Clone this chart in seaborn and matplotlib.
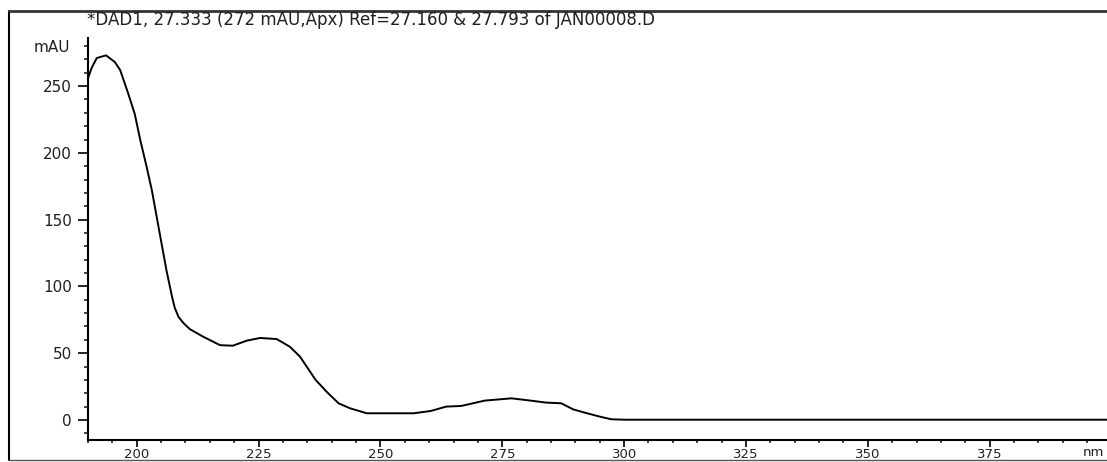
import matplotlib
matplotlib.use("Agg")
import matplotlib.pyplot as plt
from matplotlib.ticker import MultipleLocator
from matplotlib.lines import Line2D
import seaborn as sns
import pandas as pd

# ---- data ----
wavelength_nm = [190.0, 190.8, 191.8, 193.7, 195.5, 196.6, 198.2, 199.6, 200.7,
                 202.0, 203.1, 204.1, 205.1, 206.1, 207.2, 207.8, 208.6, 209.6,
                 210.9, 213.6, 217.1, 219.7, 222.6, 225.3, 228.7, 231.4, 233.5,
                 236.7, 239.0, 241.4, 243.8, 247.2, 256.8, 260.3, 263.5, 266.6,
                 271.4, 276.9, 280.8, 284.0, 287.1, 289.5, 291.9, 295.0, 297.4,
                 300.0, 325.0, 350.0, 375.0, 400.0]
absorbance_mau = [256, 264, 271, 273, 268, 262, 245, 229, 210,
                  190, 172, 152, 132, 112, 93, 84, 77, 72.5,
                  68, 62.4, 56, 55.6, 59.4, 61.4, 60.6, 54.9, 47.4,
                  30, 21, 12.5, 8.7, 5, 5, 6.7, 10, 10.5,
                  14.5, 16.2, 14.5, 13, 12.5, 8, 5.5, 2.5, 0.5,
                  0.2, 0.2, 0.2, 0.2, 0.2]
title_text = "*DAD1, 27.333 (272 mAU,Apx) Ref=27.160 & 27.793 of JAN00008.D"
y_unit = "mAU"
x_unit = "nm"

df = pd.DataFrame({"nm": wavelength_nm, "mAU": absorbance_mau})

sns.set_style("ticks")
plt.rcParams["font.family"] = ["DejaVu Sans"]
txt_color = "#202020"

W, H = 1107, 462
fig = plt.figure(figsize=(W / 100, H / 100), dpi=100)
ax = fig.add_axes([88 / W, (H - 440) / H, 1023.5 / W, (440 - 38) / H])

sns.lineplot(data=df, x="nm", y="mAU", ax=ax, color="black", linewidth=1.4,
             estimator=None, sort=False)

ax.set_xlim(190, 400)
ax.set_ylim(-15, 286)
ax.set_xlabel("")
ax.set_ylabel("")
for s in ["top", "right"]:
    ax.spines[s].set_visible(False)
for s in ["left", "bottom"]:
    ax.spines[s].set_linewidth(1.5)
    ax.spines[s].set_color("black")

ax.xaxis.set_major_locator(MultipleLocator(25))
ax.xaxis.set_minor_locator(MultipleLocator(5))
ax.yaxis.set_major_locator(MultipleLocator(50))
ax.yaxis.set_minor_locator(MultipleLocator(10))
ax.tick_params(axis="x", which="major", direction="out", length=5, width=1.2,
               pad=0.5, labelsize=9.5, colors="black", labelcolor=txt_color)
ax.tick_params(axis="x", which="minor", direction="out", length=2.5, width=1.2)
ax.tick_params(axis="y", which="major", direction="out", length=7.5, width=1.2,
               pad=4, labelsize=11, colors="black", labelcolor=txt_color)
ax.tick_params(axis="y", which="minor", direction="out", length=3, width=1.2)
ax.set_xticks([t for t in ax.get_xticks() if 200 <= t <= 375])

# axis unit labels and title
fig.text(70 / W, 1 - 48 / H, y_unit, ha="right", va="center", fontsize=11,
         color=txt_color)
fig.text(1083 / W, 1 - 453 / H, x_unit, ha="left", va="center", fontsize=9.5,
         color=txt_color)
fig.text(87 / W, 1 - 20 / H, title_text, ha="left", va="center", fontsize=12,
         color=txt_color)

# outer frame lines
fig.add_artist(Line2D([9 / W, 9 / W], [1 - 11 / H, 1 - 460 / H], color="black",
                      linewidth=1.5, transform=fig.transFigure))
fig.add_artist(Line2D([9 / W, 1.0], [1 - 11 / H, 1 - 11 / H], color="#333333",
                      linewidth=2.0, transform=fig.transFigure))
fig.add_artist(Line2D([9 / W, 1.0], [1 - 460 / H, 1 - 460 / H], color="#555555",
                      linewidth=1.0, transform=fig.transFigure))

fig.savefig("out.png", dpi=100)
